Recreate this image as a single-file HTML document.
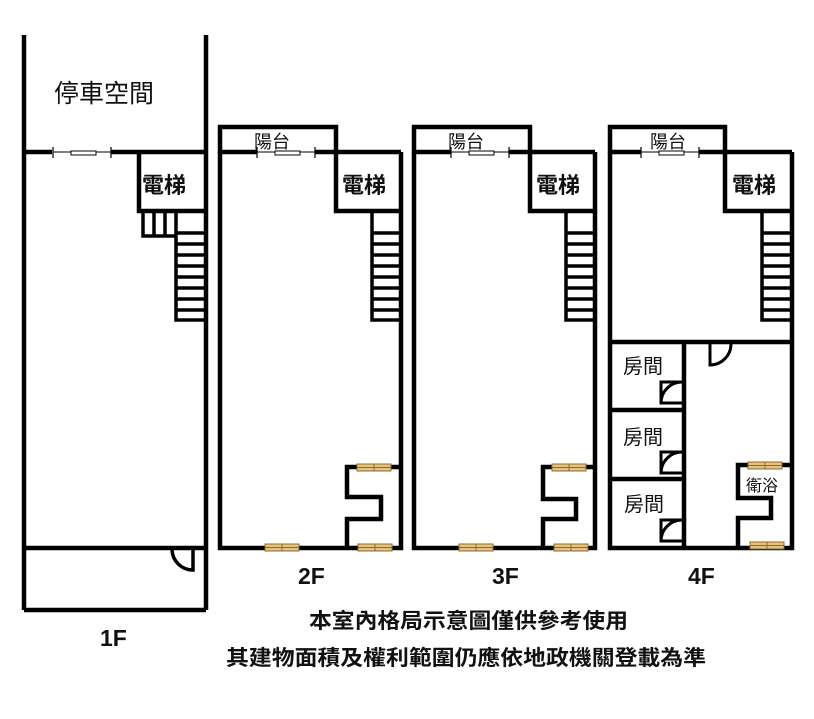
<!DOCTYPE html>
<html><head><meta charset="utf-8"><style>
html,body{margin:0;padding:0;background:#fff;}
svg{display:block;}
text{font-family:"Liberation Sans","Noto Sans CJK TC",sans-serif;fill:#111;}
</style></head><body>
<svg width="814" height="719" viewBox="0 0 814 719" xmlns="http://www.w3.org/2000/svg">
<defs>
<g id="win">
<rect x="0" y="-3" width="34" height="7" fill="#e6c27a" stroke="#8a6a30" stroke-width="1"/>
<line x1="0" y1="0.5" x2="34" y2="0.5" stroke="#8a6a30" stroke-width="1"/>
<line x1="17" y1="-3" x2="17" y2="4" stroke="#8a6a30" stroke-width="1"/>
</g>
<g id="slide">
<line x1="0" y1="0" x2="58" y2="0" stroke="#000" stroke-width="1"/>
<line x1="0" y1="-5" x2="0" y2="6" stroke="#000" stroke-width="1.2"/>
<line x1="58" y1="-5" x2="58" y2="6" stroke="#000" stroke-width="1.2"/>
<rect x="18" y="-1" width="25" height="4" fill="#fff" stroke="#000" stroke-width="1"/>
</g>
<g id="stairs" fill="none" stroke="#000" stroke-width="3.5">
<path d="M0 0 V109 H30"/>
<line x1="0" y1="22" x2="30" y2="22"/><line x1="0" y1="33" x2="30" y2="33"/>
<line x1="0" y1="44" x2="30" y2="44"/><line x1="0" y1="55" x2="30" y2="55"/>
<line x1="0" y1="66" x2="30" y2="66"/><line x1="0" y1="77" x2="30" y2="77"/>
<line x1="0" y1="88" x2="30" y2="88"/><line x1="0" y1="99" x2="30" y2="99"/>
</g>
<g id="upper" fill="none" stroke="#000" stroke-width="4.5">
<path d="M220 153 V127 H336 V153"/>
<path d="M220 152 H257 M315 152 H401"/>
<path d="M220 152 V548 H401 V152"/>
<path d="M336 152 V211 H401"/>
</g>
</defs>

<!-- 1F -->
<g fill="none" stroke="#000" stroke-width="4.5">
<line x1="24" y1="35" x2="24" y2="610"/>
<line x1="206" y1="35" x2="206" y2="610"/>
<path d="M24 152 H52 M111 152 H206"/>
<path d="M139 152 V211 H206"/>
<line x1="24" y1="548" x2="206" y2="548"/>
<line x1="24" y1="610" x2="206" y2="610"/>
</g>
<use href="#slide" x="53" y="152"/>
<g fill="none" stroke="#000" stroke-width="3.5">
<path d="M143 211 V236 H176"/>
<line x1="154" y1="211" x2="154" y2="236"/><line x1="165" y1="211" x2="165" y2="236"/>
<path d="M193 550 V570 A21 21 0 0 1 172 550"/>
</g>
<use href="#stairs" x="176" y="211"/>
<text x="54" y="102" font-size="25">停車空間</text>
<text x="142" y="193" font-size="22" font-weight="bold">電梯</text>
<text x="100" y="646" font-size="23" font-weight="bold">1F</text>

<!-- 2F -->
<g>
<use href="#upper"/>
<use href="#slide" x="257" y="152"/>
<use href="#stairs" x="372" y="211"/>
<path d="M347 548 V519 H381 V497 H347 V467 H401" fill="none" stroke="#000" stroke-width="4.5"/>
<use href="#win" x="357" y="467"/>
<use href="#win" x="265" y="547"/>
<use href="#win" x="358" y="547"/>
<text x="254" y="148" font-size="18">陽台</text>
<text x="342" y="193" font-size="22" font-weight="bold">電梯</text>
<text x="298" y="584" font-size="23" font-weight="bold">2F</text>
</g>

<!-- 3F -->
<g transform="translate(194,0)">
<use href="#upper"/>
<use href="#slide" x="257" y="152"/>
<use href="#stairs" x="372" y="211"/>
<path d="M349 548 V519 H382 V499 H349 V467 H401" fill="none" stroke="#000" stroke-width="4.5"/>
<use href="#win" x="358" y="467"/>
<use href="#win" x="265" y="547"/>
<use href="#win" x="360" y="547"/>
<text x="254" y="148" font-size="18">陽台</text>
<text x="342" y="193" font-size="22" font-weight="bold">電梯</text>
<text x="298" y="584" font-size="23" font-weight="bold">3F</text>
</g>

<!-- 4F -->
<g>
<g fill="none" stroke="#000" stroke-width="4.5">
<path d="M610 153 V127 H725 V153"/>
<path d="M610 152 H641 M699 152 H792"/>
<path d="M610 152 V548 H792 V152"/>
<path d="M725 152 V211 H792"/>
<line x1="610" y1="342" x2="792" y2="342"/>
<line x1="684" y1="342" x2="684" y2="548"/>
<line x1="610" y1="410" x2="684" y2="410"/>
<line x1="610" y1="479" x2="684" y2="479"/>
<path d="M738 548 V518 H771 V498 H738 V465 H792"/>
</g>
<g fill="none" stroke="#000" stroke-width="3">
<path d="M710 344 V365 A21 21 0 0 0 731 344"/>
<path d="M682 382 H661 V403 H682 M661 403 A21 21 0 0 1 682 382"/>
<path d="M682 452 H661 V473 H682 M661 473 A21 21 0 0 1 682 452"/>
<path d="M682 520 H661 V541 H682 M661 541 A21 21 0 0 1 682 520"/>
</g>
<use href="#slide" x="641" y="152"/>
<use href="#stairs" x="762" y="211"/>
<use href="#win" x="748" y="465"/>
<use href="#win" x="750" y="545"/>
<text x="650" y="148" font-size="18">陽台</text>
<text x="732" y="193" font-size="22" font-weight="bold">電梯</text>
<text x="623" y="373" font-size="20">房間</text>
<text x="623" y="444" font-size="20">房間</text>
<text x="624" y="511" font-size="20">房間</text>
<text x="746" y="491" font-size="16">衛浴</text>
<text x="688" y="584" font-size="23" font-weight="bold">4F</text>
</g>

<text x="309" y="628" font-size="21" font-weight="bold" textLength="319" lengthAdjust="spacingAndGlyphs">本室內格局示意圖僅供參考使用</text>
<text x="226" y="665" font-size="21" font-weight="bold" textLength="480" lengthAdjust="spacingAndGlyphs">其建物面積及權利範圍仍應依地政機關登載為準</text>
</svg>
</body></html>
